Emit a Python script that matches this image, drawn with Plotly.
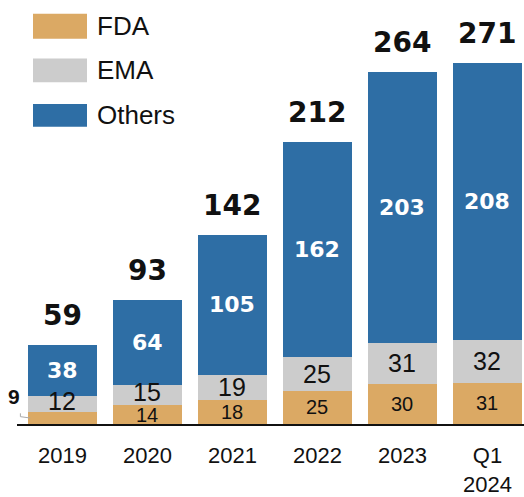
import plotly.graph_objects as go

categories = ["2019", "2020", "2021", "2022", "2023", "Q1<br>2024"]
fda = [9, 14, 18, 25, 30, 31]
ema = [12, 15, 19, 25, 31, 32]
others = [38, 64, 105, 162, 203, 208]
totals = [59, 93, 142, 212, 264, 271]
series_names = ["FDA", "EMA", "Others"]

C_FDA = "#DBA964"
C_EMA = "#CCCCCC"
C_OTH = "#2E6EA5"
colors = [C_FDA, C_EMA, C_OTH]

x = list(range(len(categories)))
fig = go.Figure()
for name, vals, col in zip(series_names, [fda, ema, others], colors):
    fig.add_trace(go.Bar(x=x, y=vals, name=name, marker=dict(color=col, line=dict(width=0)),
                         showlegend=False, hoverinfo="skip"))

ann = []
BOLD = "DejaVu Sans"
REG = "Liberation Sans"
for i in x:
    # totals
    ann.append(dict(x=i, y=totals[i], text=f"<b>{totals[i]}</b>", showarrow=False,
                    yanchor="bottom", yshift=11, font=dict(family=BOLD, size=28, color="#111")))
    # others
    ann.append(dict(x=i, y=fda[i] + ema[i] + others[i] / 2, text=f"<b>{others[i]}</b>", showarrow=False,
                    yanchor="middle", font=dict(family=BOLD, size=22, color="white")))
    # ema
    ann.append(dict(x=i, y=fda[i] + ema[i] / 2, text=f"{ema[i]}", showarrow=False,
                    yanchor="middle", yshift=3 if i < 2 else 0,
                    font=dict(family=REG, size=25, color="#111")))
    # fda
    if i == 0:
        ann.append(dict(x=i - 0.5, y=fda[i] / 2, text=f"<b>{fda[i]}</b>", showarrow=False,
                        xanchor="right", xshift=2, yshift=22,
                        font=dict(family=REG, size=21, color="#111")))
    else:
        ann.append(dict(x=i, y=fda[i] / 2, text=f"{fda[i]}", showarrow=False,
                        yanchor="middle", font=dict(family=REG, size=20, color="#111")))

# legend (custom)
shapes = []
leg_y = [(14, 39), (59, 83), (105, 128)]
for (y0, y1), name, col in zip(leg_y, series_names, colors):
    shapes.append(dict(type="rect", xref="paper", yref="paper",
                       x0=(33 - 17) / 507, x1=(87 - 17) / 507,
                       y0=1 - y1 / 428, y1=1 - y0 / 428,
                       fillcolor=col, line=dict(width=0)))
    ann.append(dict(xref="paper", yref="paper", x=(95 - 17) / 507, y=1 - (y0 + y1) / 2 / 428,
                    xanchor="left", yanchor="middle", text=name, showarrow=False,
                    font=dict(family=REG, size=26, color="#111")))

# small bracket for the "9" label
shapes.append(dict(type="path", xref="x", yref="y",
                   path="M -0.495 8 L -0.495 5.5 L -0.38 4.5",
                   line=dict(color="#aaa", width=1)))

fig.update_layout(
    width=524, height=497,
    margin=dict(l=17, r=0, t=0, b=69),
    paper_bgcolor="white", plot_bgcolor="white",
    barmode="stack", bargap=0.19,
    showlegend=False,
    annotations=ann, shapes=shapes,
    font=dict(family=REG, color="#111"),
)
fig.update_xaxes(range=[-0.535, 5.43], tickvals=x, ticktext=categories, ticks="",
                 tickfont=dict(family=REG, size=22, color="#111"),
                 showline=True, linecolor="#111", linewidth=2, showgrid=False, zeroline=False,
                 ticklabelstandoff=11)
fig.update_yaxes(range=[0, 318.2], visible=False, showgrid=False, zeroline=False)

fig.write_html("out.html")
